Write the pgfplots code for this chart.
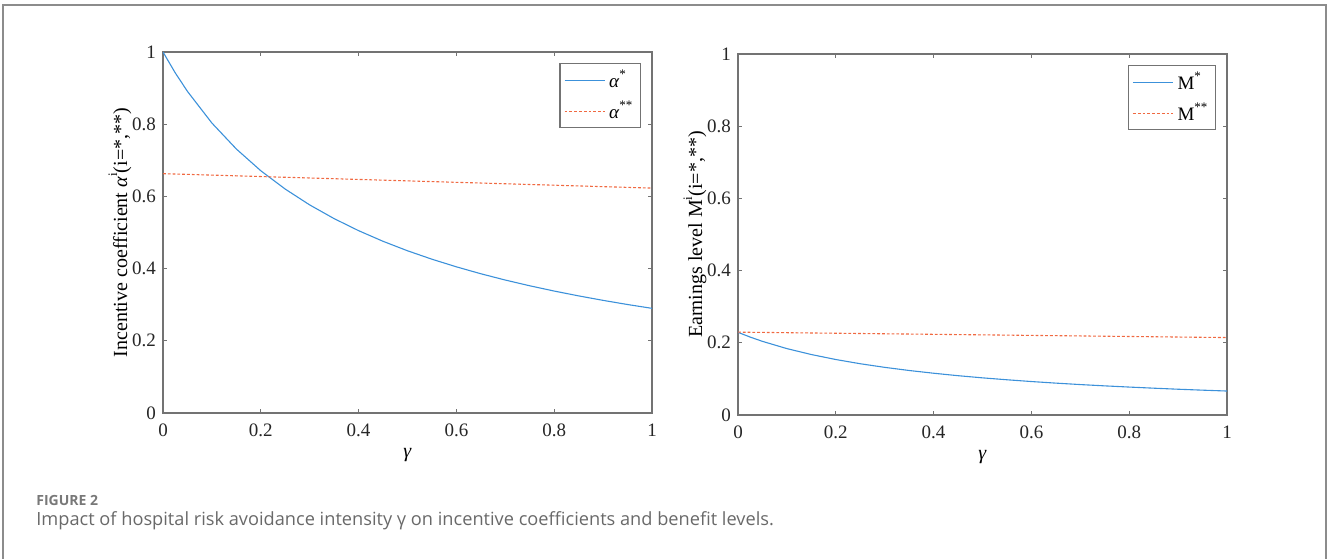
\documentclass[border=0pt]{standalone}
\usepackage{fontspec}
\setmainfont{Liberation Serif}
\newfontfamily\capfont{Open Sans}
\usepackage{pgfplots}
\pgfplotsset{compat=1.18}
\definecolor{mblue}{RGB}{60,145,218}
\definecolor{morange}{RGB}{240,105,65}
\definecolor{axgray}{RGB}{115,115,115}
\definecolor{framegray}{RGB}{140,140,140}
\definecolor{capgray}{RGB}{105,105,105}
\definecolor{figgray}{RGB}{120,120,120}

\pgfplotstableread{
g a
0 1.0000
0.025 0.9423
0.05 0.8909
0.1 0.8032
0.15 0.7313
0.2 0.6711
0.25 0.6202
0.3 0.5764
0.35 0.5384
0.4 0.5051
0.45 0.4756
0.5 0.4494
0.55 0.4260
0.6 0.4049
0.65 0.3857
0.7 0.3683
0.75 0.3524
0.8 0.3378
0.85 0.3244
0.9 0.3120
0.95 0.3005
1.0 0.2899
}\alphastar
\pgfplotstableread{
g a
0 0.663
0.2 0.655
0.4 0.647
0.6 0.639
0.8 0.631
1.0 0.623
}\alphastarstar
\pgfplotstableread{
g m
0 0.2290
0.025 0.2158
0.05 0.2040
0.1 0.1839
0.15 0.1675
0.2 0.1537
0.25 0.1420
0.3 0.1320
0.35 0.1233
0.4 0.1157
0.45 0.1089
0.5 0.1029
0.55 0.0976
0.6 0.0927
0.65 0.0883
0.7 0.0843
0.75 0.0807
0.8 0.0774
0.85 0.0743
0.9 0.0714
0.95 0.0688
1.0 0.0664
}\mstar
\pgfplotstableread{
g m
0 0.2295
0.2 0.2265
0.4 0.2235
0.6 0.2205
0.8 0.2175
1.0 0.2145
}\mstarstar

\newcommand{\hsup}[1]{\raisebox{1.1ex}{\fontsize{6.5}{7}\selectfont #1}}

\pgfplotsset{mystyle/.style={
  scale only axis,
  width=244.5pt, height=180.5pt,
  xmin=0, xmax=1, ymin=0, ymax=1,
  xtick={0,0.2,0.4,0.6,0.8,1},
  ytick={0,0.2,0.4,0.6,0.8,1},
  tick align=inside,
  major tick length=2.2pt,
  axis line style={axgray, line width=0.7pt},
  every tick/.style={axgray, line width=0.6pt},
  /pgf/number format/assume math mode=true,
  tick label style={font=\fontsize{9.5}{11}\selectfont, text=black!85},
  xticklabel style={yshift=-2pt},
  label style={font=\fontsize{9.5}{11}\selectfont, text=black!85},
  every axis y label/.style={at={(axis description cs:-0.088,0.5)}, rotate=90, anchor=center},
  every axis x label/.style={at={(axis description cs:0.5,-0.116)}, anchor=center},
  legend style={at={(axis description cs:0.9775,0.9695)}, anchor=north east,
    draw=axgray, line width=0.6pt, fill=white,
    font=\fontsize{9.5}{11}\selectfont,
    inner xsep=2pt, inner ysep=1pt, row sep=1pt,
    cells={anchor=west}},
  legend image code/.code={\draw[#1] (0pt,0pt) -- (20pt,0pt);},
}}

\begin{document}
\begin{tikzpicture}
\useasboundingbox (0,0) rectangle (663.5pt,279pt);
% frame
\draw[framegray, line width=1pt] (1.5pt,-5pt) -- (1.5pt,276.5pt) -- (662.8pt,276.5pt) -- (662.8pt,-5pt);

\begin{axis}[mystyle, at={(81.5pt,72.5pt)}, anchor=south west,
  xlabel={\textit{γ}},
  ylabel={Incentive coefficient \textit{α}\hsup{i}(i=*,**)}]
\addplot[mblue, line width=0.55pt] table[x=g,y=a] {\alphastar};
\addlegendentry{\textit{α}\hsup{*}}
\addplot[morange, line width=0.55pt, dash pattern=on 1.4pt off 1pt] table[x=g,y=a] {\alphastarstar};
\addlegendentry{\textit{α}\hsup{**}}
\end{axis}

\begin{axis}[mystyle, at={(369pt,71.5pt)}, anchor=south west,
  xlabel={\textit{γ}},
  ylabel={Earnings level M\hsup{i}(i=*,**)}]
\addplot[mblue, line width=0.55pt] table[x=g,y=m] {\mstar};
\addlegendentry{M\hsup{*}}
\addplot[morange, line width=0.55pt, dash pattern=on 1.4pt off 1pt] table[x=g,y=m] {\mstarstar};
\addlegendentry{M\hsup{**}}
\end{axis}

\node[anchor=west, inner sep=0pt, text=figgray, font=\capfont\bfseries\fontsize{7}{8}\selectfont] at (18pt,29pt) {FIGURE 2};
\node[anchor=west, inner sep=0pt, text=capgray, font=\capfont\fontsize{9.1}{10}\selectfont] at (18pt,18.5pt) {Impact of hospital risk avoidance intensity γ on incentive coefficients and benefit levels.};
\end{tikzpicture}
\end{document}
